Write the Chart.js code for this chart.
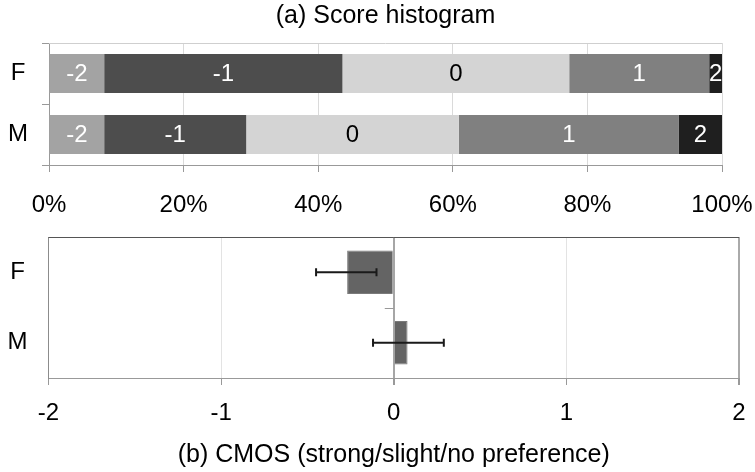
<!DOCTYPE html>
<html>
<head>
<meta charset="utf-8">
<script src="https://cdn.jsdelivr.net/npm/chart.js@4/dist/chart.umd.min.js"></script>
<style>
  html, body { margin: 0; padding: 0; background: #fff; }
  #wrap { position: relative; width: 755px; height: 472px; overflow: hidden; }
  canvas { position: absolute; left: 0; }
  #top { top: 0; }
  #bottom { top: 225px; }
</style>
</head>
<body>
<div id="wrap">
  <canvas id="top" width="755" height="235"></canvas>
  <canvas id="bottom" width="755" height="247"></canvas>
</div>
<script>
// ---- data ----
const categories = ['F', 'M'];
const scoreLabels = ['-2', '-1', '0', '1', '2'];
const scoreF = [8.2, 35.4, 33.7, 20.8, 1.9];   // % of answers, speaker F
const scoreM = [8.2, 21.1, 31.6, 32.7, 6.4];   // % of answers, speaker M
const scoreColors = ['#a3a3a3', '#4d4d4d', '#d4d4d4', '#808080', '#1f1f1f'];
const scoreTextColors = ['#ffffff', '#ffffff', '#000000', '#ffffff', '#ffffff'];
const percentTicks = [0, 20, 40, 60, 80, 100];

const cmosMean = [-0.27, 0.08];
const cmosLow = [-0.45, -0.12];
const cmosHigh = [-0.10, 0.29];
const cmosTicks = [-2, -1, 0, 1, 2];

const FONT = 'Liberation Sans, Arial, sans-serif';
Chart.defaults.font.family = FONT;
Chart.defaults.font.size = 24;
Chart.defaults.color = '#000';

function zeroPad(s) { s.paddingLeft = 0; s.paddingRight = 0; s.paddingTop = 0; s.paddingBottom = 0; }

// ---- plugins ----
const segmentLabels = {
  id: 'segmentLabels',
  afterDatasetsDraw(chart) {
    const ctx = chart.ctx;
    ctx.save();
    ctx.font = '24px ' + FONT;
    ctx.textAlign = 'center';
    ctx.textBaseline = 'middle';
    chart.data.datasets.forEach((ds, di) => {
      const meta = chart.getDatasetMeta(di);
      meta.data.forEach((el) => {
        const cx = (el.x + el.base) / 2;
        ctx.fillStyle = scoreTextColors[di];
        ctx.fillText(ds.label, cx, el.y + 1);
      });
    });
    ctx.restore();
  }
};

const topBorder = {
  id: 'topBorder',
  afterDraw(chart, args, opts) {
    const a = chart.chartArea;
    const ctx = chart.ctx;
    ctx.save();
    ctx.strokeStyle = opts.color;
    ctx.lineWidth = opts.width;
    ctx.beginPath();
    ctx.moveTo(a.left, a.top + 0.5);
    ctx.lineTo(a.right, a.top + 0.5);
    ctx.stroke();
    ctx.restore();
  }
};

const errorBars = {
  id: 'errorBars',
  afterDatasetsDraw(chart) {
    const ctx = chart.ctx;
    const xs = chart.scales.x, ys = chart.scales.y;
    ctx.save();
    ctx.strokeStyle = '#1a1a1a';
    ctx.lineWidth = 2;
    categories.forEach((c, i) => {
      const y = ys.getPixelForValue(i);
      const x1 = xs.getPixelForValue(cmosLow[i]);
      const x2 = xs.getPixelForValue(cmosHigh[i]);
      ctx.beginPath();
      ctx.moveTo(x1, y); ctx.lineTo(x2, y);
      ctx.moveTo(x1, y - 4); ctx.lineTo(x1, y + 4);
      ctx.moveTo(x2, y - 4); ctx.lineTo(x2, y + 4);
      ctx.stroke();
    });
    // small category tick on the zero axis
    const x0 = xs.getPixelForValue(0);
    const yb = (ys.getPixelForValue(0) + ys.getPixelForValue(1)) / 2;
    ctx.strokeStyle = '#999';
    ctx.lineWidth = 1;
    ctx.beginPath();
    ctx.moveTo(x0 - 9, Math.round(yb) + 0.5);
    ctx.lineTo(x0, Math.round(yb) + 0.5);
    ctx.stroke();
    ctx.restore();
  }
};

// ---- (a) score histogram ----
new Chart(document.getElementById('top'), {
  type: 'bar',
  data: {
    labels: categories,
    datasets: scoreLabels.map((lab, i) => ({
      label: lab,
      data: [scoreF[i], scoreM[i]],
      backgroundColor: scoreColors[i],
      borderWidth: 0,
      barPercentage: 1,
      categoryPercentage: 0.64
    }))
  },
  options: {
    indexAxis: 'y',
    responsive: false,
    animation: false,
    layout: { padding: { left: 0, right: 33, top: 0, bottom: 0 } },
    plugins: {
      legend: { display: false },
      tooltip: { enabled: false },
      title: {
        display: true,
        text: '(a) Score histogram',
        fullSize: false,
        font: { size: 25, weight: 'normal', family: FONT },
        color: '#000',
        padding: { top: 1, bottom: 12 }
      },
      topBorder: { color: '#cfcfcf', width: 1 }
    },
    scales: {
      x: {
        stacked: true,
        min: 0, max: 100,
        afterBuildTicks: (s) => { s.ticks = percentTicks.map(v => ({ value: v })); },
        afterFit: (s) => { s.height = 70; zeroPad(s); },
        ticks: { callback: (v) => v + '%', padding: 19, maxRotation: 0, color: '#000', font: { size: 24 } },
        grid: { color: '#dadada', tickColor: '#999', tickLength: 7, lineWidth: 1 },
        border: { color: '#999', width: 1 }
      },
      y: {
        stacked: true,
        afterFit: (s) => { s.width = 49; zeroPad(s); },
        ticks: { crossAlign: 'center', padding: 14, color: '#000', font: { size: 24 } },
        grid: { drawOnChartArea: false, tickColor: '#999', tickLength: 7, offset: true },
        border: { color: '#999', width: 1 }
      }
    }
  },
  plugins: [segmentLabels, topBorder]
});

// ---- (b) CMOS ----
new Chart(document.getElementById('bottom'), {
  type: 'bar',
  data: {
    labels: categories,
    datasets: [{
      label: 'CMOS',
      data: cmosMean,
      backgroundColor: '#646464',
      borderColor: '#7a7a7a',
      borderWidth: 1,
      barPercentage: 1,
      categoryPercentage: 0.615
    }]
  },
  options: {
    indexAxis: 'y',
    responsive: false,
    animation: false,
    layout: { padding: { left: 0, right: 16, top: 12, bottom: 0 } },
    plugins: {
      legend: { display: false },
      tooltip: { enabled: false },
      topBorder: { color: '#555', width: 1 }
    },
    scales: {
      x: {
        min: -2, max: 2,
        afterBuildTicks: (s) => { s.ticks = cmosTicks.map(v => ({ value: v })); },
        afterFit: (s) => { s.height = 94; zeroPad(s); },
        ticks: { padding: 13.5, maxRotation: 0, color: '#000', font: { size: 24 } },
        grid: {
          color: (c) => (c.tick && c.tick.value === 0) ? '#a6a6a6' : (c.tick && c.tick.value === 2 ? '#aaaaaa' : '#e3e3e3'),
          lineWidth: (c) => (c.tick && (c.tick.value === 0 || c.tick.value === 2)) ? 2 : 1,
          tickColor: '#999', tickLength: 7
        },
        border: { color: '#999', width: 1 },
        title: {
          display: true,
          text: '(b) CMOS (strong/slight/no preference)',
          color: '#000',
          font: { size: 25, family: FONT },
          padding: { top: 0, bottom: 2 }
        }
      },
      y: {
        afterFit: (s) => { s.width = 48.5; zeroPad(s); },
        ticks: { crossAlign: 'center', padding: 21, color: '#000', font: { size: 24 } },
        grid: { drawOnChartArea: false, drawTicks: false, offset: true },
        border: { color: '#8c8c8c', width: 1 }
      }
    }
  },
  plugins: [errorBars, topBorder]
});
</script>
</body>
</html>
